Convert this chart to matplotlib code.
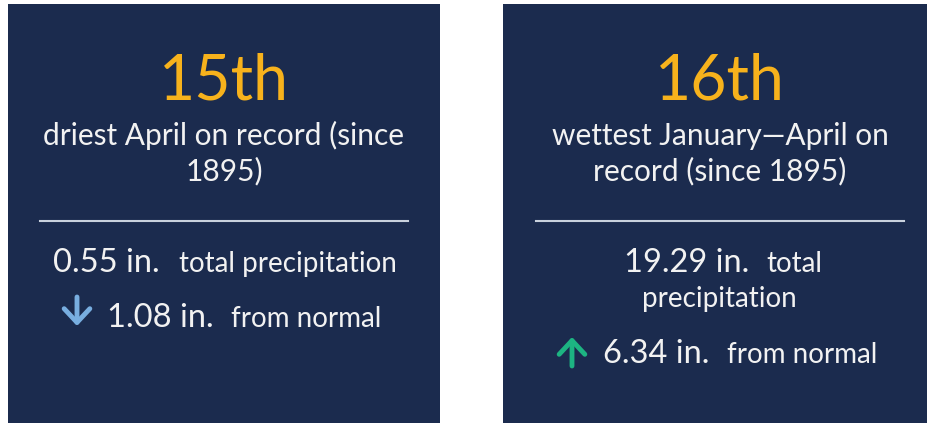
import matplotlib.pyplot as plt
from matplotlib.patches import Rectangle

# Data shown on the two cards
ranks = ["15th", "16th"]
rank_lines = [["driest April on record (since", "1895)"],
              ["wettest January\u2014April on", "record (since 1895)"]]
totals = [0.55, 19.29]
departures = [-1.08, 6.34]

navy = "#1b2b4e"
orange = "#f7b21c"
white = "#f2f2f2"
rule = "#c9d1dd"
up_col = "#1db482"
down_col = "#78aee0"

plt.rcParams["font.family"] = ["Lato", "DejaVu Sans"]

fig = plt.figure(figsize=(9.27, 4.23), dpi=100)
ax = fig.add_axes([0, 0, 1, 1])
ax.set_xlim(0, 927)
ax.set_ylim(423, 0)
ax.axis("off")

# card geometry (pixels)
cards = [dict(x0=8, x1=440, cx=224), dict(x0=503, x1=940, cx=720)]
arrow_style = "->,head_length=0.45,head_width=0.42"

for i, c in enumerate(cards):
    ax.add_patch(Rectangle((c["x0"], 4), c["x1"] - c["x0"], 425, color=navy, lw=0))
    cx = c["cx"]
    ax.text(cx, 100, ranks[i], color=orange, fontsize=45, ha="center", va="baseline")
    ax.text(cx, 145, rank_lines[i][0], color=white, fontsize=21.5, ha="center", va="baseline")
    ax.text(cx, 180, rank_lines[i][1], color=white, fontsize=21.5, ha="center", va="baseline")
    ax.plot([cx - 184, cx + 184], [221, 221], color=rule, lw=1.5)

# left card: total + departure
ax.text(106, 272, f"{totals[0]:.2f} in.", color=white, fontsize=23.5, ha="center", va="baseline")
ax.text(288, 272, "total precipitation", color=white, fontsize=20, ha="center", va="baseline")
ax.annotate("", xy=(77, 326), xytext=(77, 297),
            arrowprops=dict(arrowstyle=arrow_style, color=down_col, lw=3.5, mutation_scale=22,
                            shrinkA=0, shrinkB=0))
ax.text(160, 327, f"{abs(departures[0]):.2f} in.", color=white, fontsize=23.5, ha="center", va="baseline")
ax.text(306, 327, "from normal", color=white, fontsize=20, ha="center", va="baseline")

# right card: total + departure
ax.text(687, 272, f"{totals[1]:.2f} in.", color=white, fontsize=23.5, ha="center", va="baseline")
ax.text(794, 272, "total", color=white, fontsize=20, ha="center", va="baseline")
ax.text(719, 307, "precipitation", color=white, fontsize=20, ha="center", va="baseline")
ax.annotate("", xy=(572, 337), xytext=(572, 366),
            arrowprops=dict(arrowstyle=arrow_style, color=up_col, lw=3.5, mutation_scale=22,
                            shrinkA=0, shrinkB=0))
ax.text(656, 363, f"{abs(departures[1]):.2f} in.", color=white, fontsize=23.5, ha="center", va="baseline")
ax.text(802, 363, "from normal", color=white, fontsize=20, ha="center", va="baseline")

fig.savefig("out.png", dpi=100, facecolor="white")
